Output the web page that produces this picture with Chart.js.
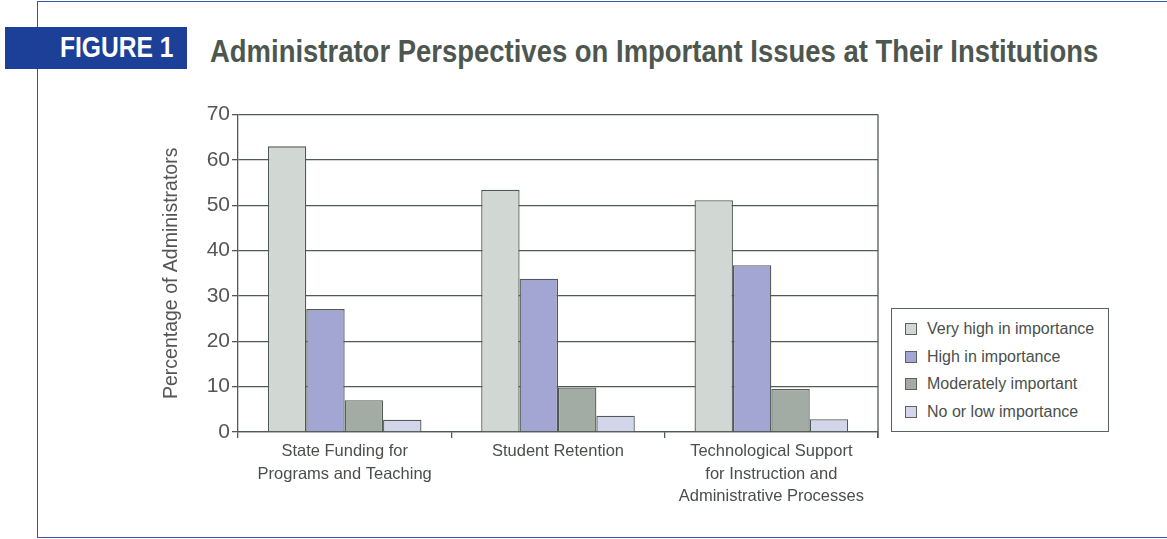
<!DOCTYPE html>
<html>
<head>
<meta charset="utf-8">
<script src="https://cdn.jsdelivr.net/npm/chart.js@4.4.1/dist/chart.umd.min.js"></script>
<style>
  body { margin: 0; background: #fff; width: 1167px; height: 539px; overflow: hidden; position: relative; font-family: "Liberation Sans", Arial, sans-serif; }
  #frame { position: absolute; left: 37px; top: 1px; width: 1140px; height: 537px; border: 1px solid #3356a8; box-sizing: border-box; }
  #fig { position: absolute; left: 5px; top: 27px; width: 182px; height: 42px; background: #1c3f98; }
  #fig span { position: absolute; right: 14px; top: 3px; line-height: 42px; color: #fff; font: bold 30px "Liberation Sans", sans-serif;
              transform: scaleX(0.82); transform-origin: right center; white-space: nowrap; }
  #title { position: absolute; left: 210px; top: 34px; color: #4d574f; font: bold 31px "Liberation Sans", sans-serif; white-space: nowrap;
           transform: scaleX(0.886); transform-origin: left center; }
  #wrap { position: absolute; left: 150px; top: 100px; width: 730px; height: 410px; }
  #legend { position: absolute; left: 891px; top: 308px; width: 218px; height: 124px; border: 1px solid #5a635d; box-sizing: border-box; padding-top: 6px; }
  .item { height: 27.7px; display: flex; align-items: center; font: 16px "Liberation Sans", sans-serif; color: #4a4f4b; }
  .sw { width: 12px; height: 12px; border: 1px solid #5a635d; margin: 0 10px 0 13px; box-sizing: border-box; }
</style>
</head>
<body>
<div id="frame"></div>
<div id="fig"><span>FIGURE 1</span></div>
<div id="title">Administrator Perspectives on Important Issues at Their Institutions</div>
<div id="wrap"><canvas id="chart"></canvas></div>
<div id="legend"></div>
<script>
const categories = [
  ['State Funding for', 'Programs and Teaching'],
  ['Student Retention'],
  ['Technological Support', 'for Instruction and', 'Administrative Processes']
];
const seriesNames = ['Very high in importance', 'High in importance', 'Moderately important', 'No or low importance'];
const veryHigh = [63.0, 53.4, 51.1];
const high = [27.1, 33.8, 36.8];
const moderate = [7.0, 9.8, 9.5];
const noOrLow = [2.7, 3.6, 2.8];
const colors = ['#d1d8d3', '#a3a6d3', '#a3aba5', '#d3d5ea'];
const yTicks = [0, 10, 20, 30, 40, 50, 60, 70];

const edgeColor = '#515a54';
const values = [veryHigh, high, moderate, noOrLow];

// right edge of the plot box
const rightEdge = {
  id: 'rightEdge',
  afterDraw(chart) {
    const a = chart.chartArea, c = chart.ctx;
    c.save();
    c.strokeStyle = edgeColor;
    c.lineWidth = 1.3;
    c.beginPath();
    c.moveTo(a.right, a.top);
    c.lineTo(a.right, a.bottom + 6);
    c.stroke();
    c.restore();
  }
};

const chart = new Chart(document.getElementById('chart'), {
  type: 'bar',
  data: {
    labels: categories,
    datasets: seriesNames.map((name, i) => ({
      label: name,
      data: values[i],
      backgroundColor: colors[i],
      borderColor: edgeColor,
      borderWidth: 1.3,
      categoryPercentage: 0.72,
      barPercentage: 1.0
    }))
  },
  options: {
    responsive: true,
    maintainAspectRatio: false,
    animation: false,
    layout: { padding: { top: 13, right: 2 } },
    plugins: { legend: { display: false }, tooltip: { enabled: false } },
    scales: {
      x: {
        grid: { drawOnChartArea: false, color: edgeColor, lineWidth: 1.3, tickLength: 6 },
        border: { color: edgeColor, width: 1.3 },
        ticks: { color: '#4a4f4b', font: { family: '"Liberation Sans", sans-serif', size: 16.5, lineHeight: 1.38 }, padding: 2, maxRotation: 0 },
        afterFit(s) { s.height = 78; }
      },
      y: {
        min: 0, max: 70,
        afterBuildTicks(s) { s.ticks = yTicks.map(v => ({ value: v })); },
        grid: { color: edgeColor, lineWidth: 1.3, tickLength: 6 },
        border: { color: edgeColor, width: 1.3 },
        ticks: { color: '#555', font: { family: '"Liberation Sans", sans-serif', size: 21 }, padding: 2 },
        title: { display: true, text: 'Percentage of Administrators', color: '#555', font: { family: '"Liberation Sans", sans-serif', size: 19.5 }, padding: { top: 10, bottom: 0 } },
        afterFit(s) { s.width = 88; }
      }
    }
  },
  plugins: [rightEdge]
});

// legend box drawn from the same series names/colours
const legend = document.getElementById('legend');
seriesNames.forEach((name, i) => {
  const row = document.createElement('div');
  row.className = 'item';
  row.innerHTML = `<span class="sw" style="background:${colors[i]}"></span>${name}`;
  legend.appendChild(row);
});
</script>
</body>
</html>
